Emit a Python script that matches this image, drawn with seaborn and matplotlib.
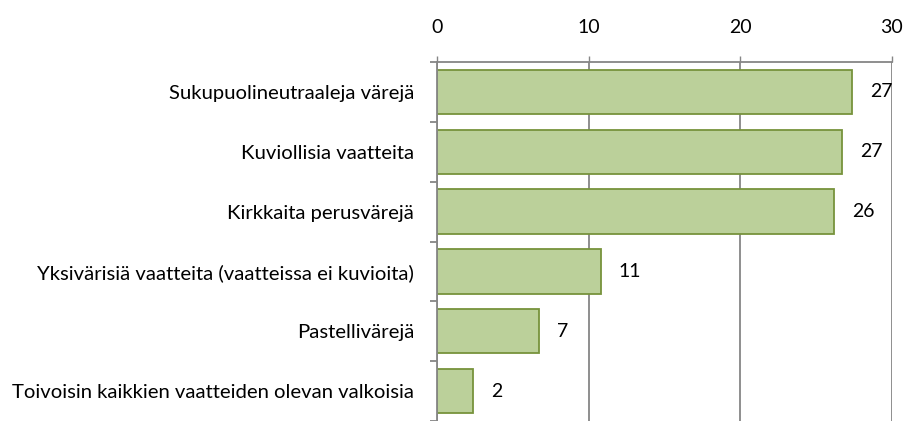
import matplotlib
matplotlib.use('Agg')
import matplotlib.pyplot as plt
import seaborn as sns
import pandas as pd
import numpy as np

categories = [
    'Sukupuolineutraaleja värejä',
    'Kuviollisia vaatteita',
    'Kirkkaita perusvärejä',
    'Yksivärisiä vaatteita (vaatteissa ei kuvioita)',
    'Pastellivärejä',
    'Toivoisin kaikkien vaatteiden olevan valkoisia',
]
values = [27.35, 26.7, 26.2, 10.8, 6.7, 2.4]

df = pd.DataFrame({'category': categories, 'value': values})

sns.set_style('white')
plt.rcParams['font.family'] = ['Lato', 'DejaVu Sans']
plt.rcParams['text.color'] = 'black'
plt.rcParams['xtick.color'] = 'black'
plt.rcParams['ytick.color'] = 'black'

fig = plt.figure(figsize=(9.04, 4.21), dpi=100)
ax = fig.add_axes([437 / 904, 0, (892 - 437) / 904, (421 - 62) / 421])

sns.barplot(data=df, x='value', y='category', orient='h', ax=ax,
            color='#bbd09a', edgecolor='#77933c', linewidth=1.3,
            width=0.74, saturation=1)

grey = '#868686'
ax.set_xlim(0, 30)
ax.set_ylim(5.37, -0.5)
ax.xaxis.tick_top()
ax.set_xticks([0, 10, 20, 30])
ax.tick_params(axis='x', length=4, width=1, color=grey, labelcolor='black',
               labelsize=14, pad=15)
ax.grid(axis='x', color=grey, linewidth=1.3)
ax.set_axisbelow(True)

ax.set_yticks(range(len(categories)))
ax.set_yticklabels(categories)
ax.set_yticks(np.arange(-0.5, len(categories), 1), minor=True)
ax.tick_params(axis='y', which='major', left=False, labelcolor='black',
               labelsize=14.6, pad=13)
ax.tick_params(axis='y', which='minor', left=True, length=5, width=1.3,
               color=grey)
ax.set_xlabel('')
ax.set_ylabel('')

for side in ['bottom', 'right']:
    ax.spines[side].set_visible(False)
for side in ['top', 'left']:
    ax.spines[side].set_color(grey)
    ax.spines[side].set_linewidth(1.3)

ax.bar_label(ax.containers[0], fmt='%.0f', padding=13, fontsize=14,
             color='black')

fig.savefig('out.png', dpi=100)
